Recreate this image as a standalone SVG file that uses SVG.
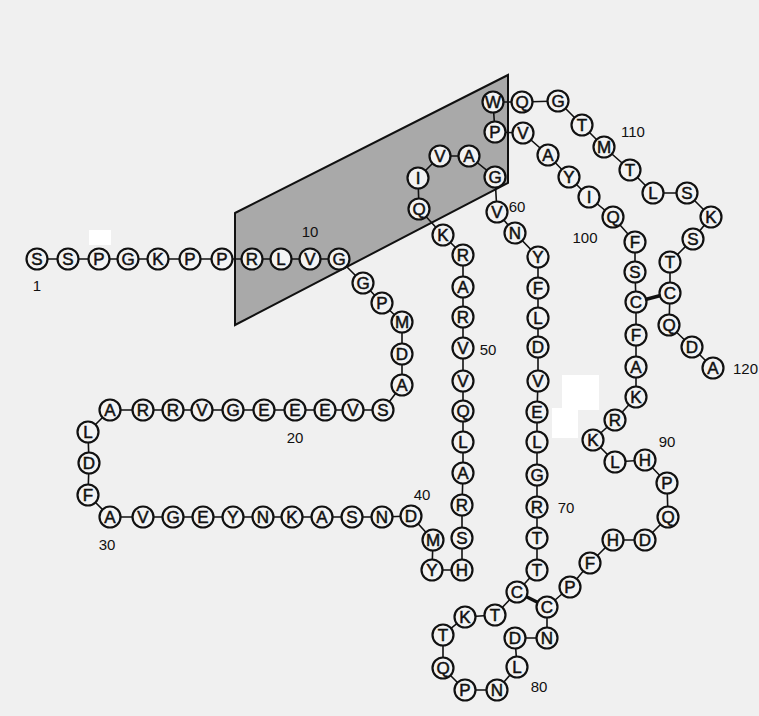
<svg xmlns="http://www.w3.org/2000/svg" width="759" height="716" viewBox="0 0 759 716">
<style>
.bg{fill:#f0f0f0}
.res circle{fill:#f3f3f3;stroke:#111;stroke-width:2.2}
.res text{font-family:"Liberation Sans",Arial,sans-serif;font-size:17px;fill:#111;stroke:#111;stroke-width:0.5;text-anchor:middle}
.lbl{font-family:"Liberation Sans",Arial,sans-serif;font-size:15px;fill:#111;text-anchor:middle}
.chain{fill:none;stroke:#111;stroke-width:1.6}
.ss{stroke:#111;stroke-width:3.5}
.patch{fill:#ffffff}
</style>
<rect class="bg" x="0" y="0" width="759" height="716"/>
<rect class="patch" x="89" y="230" width="22" height="15"/>
<rect class="patch" x="562" y="375" width="37" height="35"/>
<rect class="patch" x="552" y="408" width="26" height="30"/>
<polygon id="membrane" points="235,213 508,75 508,183 235,325" fill="#a9a9a9" stroke="#111" stroke-width="2"/>
<g id="connectors">
<polyline class="chain" points="37,259 68,259 99,259 128,259 158,259 190,259 222,259 252,259 281,259 310,259 339,259 363,283 382,303 402,322 402,354 402,385 383,410 353,410 325,410 295,410 264,410 233,410 202,410 173,410 143,410 110,410 88,432 89,463 88,495 110,517 143,517 173,517 203,517 233,517 263,517 292,517 322,517 352,517 382,517 411,516 433,540 432,570 462,570 462,538 462,505 463,473 463,442 463,411 463,381 463,348 463,317 463,287 463,255 443,235 419,209 418,178 440,156 469,156 495,177 497,212 515,233 538,257 538,288 538,318 538,347 538,381 537,412 537,442 537,475 537,507 537,538 537,570 517,592 495,615 465,617 443,635 443,668 465,690 497,690 517,667 515,638 547,638 547,607 570,587 590,563 613,540 645,540 668,517 667,483 645,460 615,462 593,440 615,420 636,397 636,367 636,335 636,302 635,272 635,242 613,217 589,197 569,177 548,155 523,133 495,132 493,102 522,102 558,101 582,125 604,147 630,170 653,193 687,193 711,217 693,239 670,262 670,293 669,325 692,347 713,368"/>
<line class="ss" x1="517" y1="592" x2="547" y2="607"/>
<line class="ss" x1="636" y1="302" x2="670" y2="293"/>
</g>
<g class="res">
<g id="r1"><circle cx="37" cy="259" r="10.5"/><text x="37" y="265">S</text></g>
<g id="r2"><circle cx="68" cy="259" r="10.5"/><text x="68" y="265">S</text></g>
<g id="r3"><circle cx="99" cy="259" r="10.5"/><text x="99" y="265">P</text></g>
<g id="r4"><circle cx="128" cy="259" r="10.5"/><text x="128" y="265">G</text></g>
<g id="r5"><circle cx="158" cy="259" r="10.5"/><text x="158" y="265">K</text></g>
<g id="r6"><circle cx="190" cy="259" r="10.5"/><text x="190" y="265">P</text></g>
<g id="r7"><circle cx="222" cy="259" r="10.5"/><text x="222" y="265">P</text></g>
<g id="r8"><circle cx="252" cy="259" r="10.5"/><text x="252" y="265">R</text></g>
<g id="r9"><circle cx="281" cy="259" r="10.5"/><text x="281" y="265">L</text></g>
<g id="r10"><circle cx="310" cy="259" r="10.5"/><text x="310" y="265">V</text></g>
<g id="r11"><circle cx="339" cy="259" r="10.5"/><text x="339" y="265">G</text></g>
<g id="r12"><circle cx="363" cy="283" r="10.5"/><text x="363" y="289">G</text></g>
<g id="r13"><circle cx="382" cy="303" r="10.5"/><text x="382" y="309">P</text></g>
<g id="r14"><circle cx="402" cy="322" r="10.5"/><text x="402" y="328">M</text></g>
<g id="r15"><circle cx="402" cy="354" r="10.5"/><text x="402" y="360">D</text></g>
<g id="r16"><circle cx="402" cy="385" r="10.5"/><text x="402" y="391">A</text></g>
<g id="r17"><circle cx="383" cy="410" r="10.5"/><text x="383" y="416">S</text></g>
<g id="r18"><circle cx="353" cy="410" r="10.5"/><text x="353" y="416">V</text></g>
<g id="r19"><circle cx="325" cy="410" r="10.5"/><text x="325" y="416">E</text></g>
<g id="r20"><circle cx="295" cy="410" r="10.5"/><text x="295" y="416">E</text></g>
<g id="r21"><circle cx="264" cy="410" r="10.5"/><text x="264" y="416">E</text></g>
<g id="r22"><circle cx="233" cy="410" r="10.5"/><text x="233" y="416">G</text></g>
<g id="r23"><circle cx="202" cy="410" r="10.5"/><text x="202" y="416">V</text></g>
<g id="r24"><circle cx="173" cy="410" r="10.5"/><text x="173" y="416">R</text></g>
<g id="r25"><circle cx="143" cy="410" r="10.5"/><text x="143" y="416">R</text></g>
<g id="r26"><circle cx="110" cy="410" r="10.5"/><text x="110" y="416">A</text></g>
<g id="r27"><circle cx="88" cy="432" r="10.5"/><text x="88" y="438">L</text></g>
<g id="r28"><circle cx="89" cy="463" r="10.5"/><text x="89" y="469">D</text></g>
<g id="r29"><circle cx="88" cy="495" r="10.5"/><text x="88" y="501">F</text></g>
<g id="r30"><circle cx="110" cy="517" r="10.5"/><text x="110" y="523">A</text></g>
<g id="r31"><circle cx="143" cy="517" r="10.5"/><text x="143" y="523">V</text></g>
<g id="r32"><circle cx="173" cy="517" r="10.5"/><text x="173" y="523">G</text></g>
<g id="r33"><circle cx="203" cy="517" r="10.5"/><text x="203" y="523">E</text></g>
<g id="r34"><circle cx="233" cy="517" r="10.5"/><text x="233" y="523">Y</text></g>
<g id="r35"><circle cx="263" cy="517" r="10.5"/><text x="263" y="523">N</text></g>
<g id="r36"><circle cx="292" cy="517" r="10.5"/><text x="292" y="523">K</text></g>
<g id="r37"><circle cx="322" cy="517" r="10.5"/><text x="322" y="523">A</text></g>
<g id="r38"><circle cx="352" cy="517" r="10.5"/><text x="352" y="523">S</text></g>
<g id="r39"><circle cx="382" cy="517" r="10.5"/><text x="382" y="523">N</text></g>
<g id="r40"><circle cx="411" cy="516" r="10.5"/><text x="411" y="522">D</text></g>
<g id="r41"><circle cx="433" cy="540" r="10.5"/><text x="433" y="546">M</text></g>
<g id="r42"><circle cx="432" cy="570" r="10.5"/><text x="432" y="576">Y</text></g>
<g id="r43"><circle cx="462" cy="570" r="10.5"/><text x="462" y="576">H</text></g>
<g id="r44"><circle cx="462" cy="538" r="10.5"/><text x="462" y="544">S</text></g>
<g id="r45"><circle cx="462" cy="505" r="10.5"/><text x="462" y="511">R</text></g>
<g id="r46"><circle cx="463" cy="473" r="10.5"/><text x="463" y="479">A</text></g>
<g id="r47"><circle cx="463" cy="442" r="10.5"/><text x="463" y="448">L</text></g>
<g id="r48"><circle cx="463" cy="411" r="10.5"/><text x="463" y="417">Q</text></g>
<g id="r49"><circle cx="463" cy="381" r="10.5"/><text x="463" y="387">V</text></g>
<g id="r50"><circle cx="463" cy="348" r="10.5"/><text x="463" y="354">V</text></g>
<g id="r51"><circle cx="463" cy="317" r="10.5"/><text x="463" y="323">R</text></g>
<g id="r52"><circle cx="463" cy="287" r="10.5"/><text x="463" y="293">A</text></g>
<g id="r53"><circle cx="463" cy="255" r="10.5"/><text x="463" y="261">R</text></g>
<g id="r54"><circle cx="443" cy="235" r="10.5"/><text x="443" y="241">K</text></g>
<g id="r55"><circle cx="419" cy="209" r="10.5"/><text x="419" y="215">Q</text></g>
<g id="r56"><circle cx="418" cy="178" r="10.5"/><text x="418" y="184">I</text></g>
<g id="r57"><circle cx="440" cy="156" r="10.5"/><text x="440" y="162">V</text></g>
<g id="r58"><circle cx="469" cy="156" r="10.5"/><text x="469" y="162">A</text></g>
<g id="r59"><circle cx="495" cy="177" r="10.5"/><text x="495" y="183">G</text></g>
<g id="r60"><circle cx="497" cy="212" r="10.5"/><text x="497" y="218">V</text></g>
<g id="r61"><circle cx="515" cy="233" r="10.5"/><text x="515" y="239">N</text></g>
<g id="r62"><circle cx="538" cy="257" r="10.5"/><text x="538" y="263">Y</text></g>
<g id="r63"><circle cx="538" cy="288" r="10.5"/><text x="538" y="294">F</text></g>
<g id="r64"><circle cx="538" cy="318" r="10.5"/><text x="538" y="324">L</text></g>
<g id="r65"><circle cx="538" cy="347" r="10.5"/><text x="538" y="353">D</text></g>
<g id="r66"><circle cx="538" cy="381" r="10.5"/><text x="538" y="387">V</text></g>
<g id="r67"><circle cx="537" cy="412" r="10.5"/><text x="537" y="418">E</text></g>
<g id="r68"><circle cx="537" cy="442" r="10.5"/><text x="537" y="448">L</text></g>
<g id="r69"><circle cx="537" cy="475" r="10.5"/><text x="537" y="481">G</text></g>
<g id="r70"><circle cx="537" cy="507" r="10.5"/><text x="537" y="513">R</text></g>
<g id="r71"><circle cx="537" cy="538" r="10.5"/><text x="537" y="544">T</text></g>
<g id="r72"><circle cx="537" cy="570" r="10.5"/><text x="537" y="576">T</text></g>
<g id="r73"><circle cx="517" cy="592" r="10.5"/><text x="517" y="598">C</text></g>
<g id="r74"><circle cx="495" cy="615" r="10.5"/><text x="495" y="621">T</text></g>
<g id="r75"><circle cx="465" cy="617" r="10.5"/><text x="465" y="623">K</text></g>
<g id="r76"><circle cx="443" cy="635" r="10.5"/><text x="443" y="641">T</text></g>
<g id="r77"><circle cx="443" cy="668" r="10.5"/><text x="443" y="674">Q</text></g>
<g id="r78"><circle cx="465" cy="690" r="10.5"/><text x="465" y="696">P</text></g>
<g id="r79"><circle cx="497" cy="690" r="10.5"/><text x="497" y="696">N</text></g>
<g id="r80"><circle cx="517" cy="667" r="10.5"/><text x="517" y="673">L</text></g>
<g id="r81"><circle cx="515" cy="638" r="10.5"/><text x="515" y="644">D</text></g>
<g id="r82"><circle cx="547" cy="638" r="10.5"/><text x="547" y="644">N</text></g>
<g id="r83"><circle cx="547" cy="607" r="10.5"/><text x="547" y="613">C</text></g>
<g id="r84"><circle cx="570" cy="587" r="10.5"/><text x="570" y="593">P</text></g>
<g id="r85"><circle cx="590" cy="563" r="10.5"/><text x="590" y="569">F</text></g>
<g id="r86"><circle cx="613" cy="540" r="10.5"/><text x="613" y="546">H</text></g>
<g id="r87"><circle cx="645" cy="540" r="10.5"/><text x="645" y="546">D</text></g>
<g id="r88"><circle cx="668" cy="517" r="10.5"/><text x="668" y="523">Q</text></g>
<g id="r89"><circle cx="667" cy="483" r="10.5"/><text x="667" y="489">P</text></g>
<g id="r90"><circle cx="645" cy="460" r="10.5"/><text x="645" y="466">H</text></g>
<g id="r91"><circle cx="615" cy="462" r="10.5"/><text x="615" y="468">L</text></g>
<g id="r92"><circle cx="593" cy="440" r="10.5"/><text x="593" y="446">K</text></g>
<g id="r93"><circle cx="615" cy="420" r="10.5"/><text x="615" y="426">R</text></g>
<g id="r94"><circle cx="636" cy="397" r="10.5"/><text x="636" y="403">K</text></g>
<g id="r95"><circle cx="636" cy="367" r="10.5"/><text x="636" y="373">A</text></g>
<g id="r96"><circle cx="636" cy="335" r="10.5"/><text x="636" y="341">F</text></g>
<g id="r97"><circle cx="636" cy="302" r="10.5"/><text x="636" y="308">C</text></g>
<g id="r98"><circle cx="635" cy="272" r="10.5"/><text x="635" y="278">S</text></g>
<g id="r99"><circle cx="635" cy="242" r="10.5"/><text x="635" y="248">F</text></g>
<g id="r100"><circle cx="613" cy="217" r="10.5"/><text x="613" y="223">Q</text></g>
<g id="r101"><circle cx="589" cy="197" r="10.5"/><text x="589" y="203">I</text></g>
<g id="r102"><circle cx="569" cy="177" r="10.5"/><text x="569" y="183">Y</text></g>
<g id="r103"><circle cx="548" cy="155" r="10.5"/><text x="548" y="161">A</text></g>
<g id="r104"><circle cx="523" cy="133" r="10.5"/><text x="523" y="139">V</text></g>
<g id="r105"><circle cx="495" cy="132" r="10.5"/><text x="495" y="138">P</text></g>
<g id="r106"><circle cx="493" cy="102" r="10.5"/><text x="493" y="108">W</text></g>
<g id="r107"><circle cx="522" cy="102" r="10.5"/><text x="522" y="108">Q</text></g>
<g id="r108"><circle cx="558" cy="101" r="10.5"/><text x="558" y="107">G</text></g>
<g id="r109"><circle cx="582" cy="125" r="10.5"/><text x="582" y="131">T</text></g>
<g id="r110"><circle cx="604" cy="147" r="10.5"/><text x="604" y="153">M</text></g>
<g id="r111"><circle cx="630" cy="170" r="10.5"/><text x="630" y="176">T</text></g>
<g id="r112"><circle cx="653" cy="193" r="10.5"/><text x="653" y="199">L</text></g>
<g id="r113"><circle cx="687" cy="193" r="10.5"/><text x="687" y="199">S</text></g>
<g id="r114"><circle cx="711" cy="217" r="10.5"/><text x="711" y="223">K</text></g>
<g id="r115"><circle cx="693" cy="239" r="10.5"/><text x="693" y="245">S</text></g>
<g id="r116"><circle cx="670" cy="262" r="10.5"/><text x="670" y="268">T</text></g>
<g id="r117"><circle cx="670" cy="293" r="10.5"/><text x="670" y="299">C</text></g>
<g id="r118"><circle cx="669" cy="325" r="10.5"/><text x="669" y="331">Q</text></g>
<g id="r119"><circle cx="692" cy="347" r="10.5"/><text x="692" y="353">D</text></g>
<g id="r120"><circle cx="713" cy="368" r="10.5"/><text x="713" y="374">A</text></g>
</g>
<g id="labels">
<text class="lbl" x="37" y="291">1</text>
<text class="lbl" x="310" y="237">10</text>
<text class="lbl" x="295" y="443">20</text>
<text class="lbl" x="107" y="550">30</text>
<text class="lbl" x="422" y="500">40</text>
<text class="lbl" x="488" y="355">50</text>
<text class="lbl" x="517" y="212">60</text>
<text class="lbl" x="566" y="513">70</text>
<text class="lbl" x="539" y="692">80</text>
<text class="lbl" x="667" y="447">90</text>
<text class="lbl" x="585" y="243">100</text>
<text class="lbl" x="633" y="137">110</text>
<text class="lbl" x="733" y="374" style="text-anchor:start">120</text>
</g>
</svg>
